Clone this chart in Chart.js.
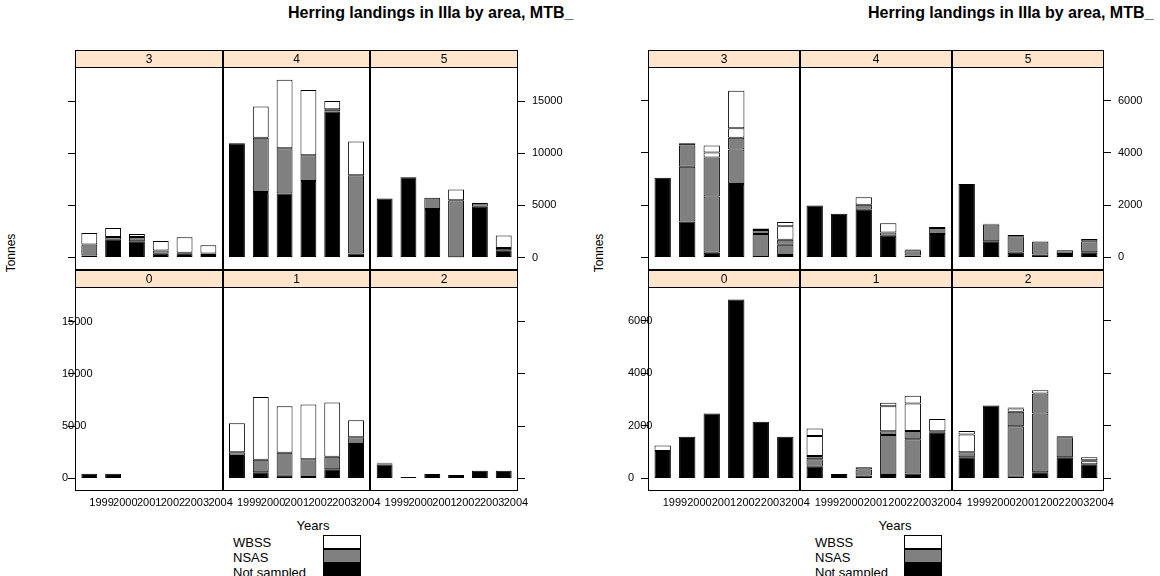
<!DOCTYPE html>
<html>
<head>
<meta charset="utf-8">
<script src="https://cdn.jsdelivr.net/npm/chart.js@4.4.1/dist/chart.umd.min.js"></script>
<style>
  body { margin: 0; width: 1160px; height: 576px; overflow: hidden; position: relative; background: #fff;
         font-family: "Liberation Sans", Arial, sans-serif; color: #000; }
  canvas { position: absolute; }
  .txt { position: absolute; white-space: nowrap; }
  .title { font-size: 16px; font-weight: bold; line-height: 18px; top: 4px; overflow: hidden; }
  .ylab { font-size: 12px; transform: translate(-50%, -50%) rotate(-90deg); }
  .xlab { font-size: 13px; transform: translateX(-50%); top: 518px; line-height: 15px; }
  .key { font-size: 13px; line-height: 15px; }
  .box { position: absolute; width: 38px; height: 14px; border: 1px solid #000; box-sizing: border-box; }
</style>
</head>
<body>

<div class="txt title" style="left:288px; width:292px">Herring landings in IIIa by area, MTB_</div>
<div class="txt title" style="left:868px; width:292px">Herring landings in IIIa by area, MTB_</div>
<div class="txt ylab" style="left:11px; top:253px">Tonnes</div>
<div class="txt ylab" style="left:599px; top:253px">Tonnes</div>
<div class="txt xlab" style="left:313px">Years</div>
<div class="txt xlab" style="left:895px">Years</div>
<div id="keyL"></div>
<div id="keyR"></div>

<canvas id="lt" width="506" height="220" style="left:62px; top:50px"></canvas>
<canvas id="lb" width="506" height="245" style="left:62px; top:270px"></canvas>
<canvas id="rt" width="526" height="220" style="left:628px; top:50px"></canvas>
<canvas id="rb" width="526" height="245" style="left:628px; top:270px"></canvas>

<script>
const years = ['1999', '2000', '2001', '2002', '2003', '2004'];
const topAreas = ['3', '4', '5'];
const bottomAreas = ['0', '1', '2'];
const stocks = ['WBSS', 'NSAS', 'Not sampled'];   // key order, top to bottom
const stockCodes = ['W', 'S', 'N'];

// bars per year, segments from the bottom up: [stock, tonnes]
// N = Not sampled, S = NSAS, W = WBSS
const leftArea0 = [[['N', 450]], [['N', 450]], [], [], [], []];
const leftArea1 = [
  [['N', 2150], ['S', 350], ['W', 2780]],
  [['N', 600], ['S', 1190], ['W', 6000]],
  [['N', 250], ['S', 2210], ['W', 4440]],
  [['N', 150], ['S', 1690], ['W', 5220]],
  [['N', 870], ['S', 1210], ['W', 5170]],
  [['N', 3300], ['S', 640], ['W', 1630]]
];
const leftArea2 = [
  [['N', 1330], ['S', 100], ['W', 60]],
  [['N', 150]], [['N', 420]], [['N', 320]], [['N', 730]], [['N', 730]]
];
const leftArea3 = [
  [['N', 200], ['S', 1040], ['W', 1110]],
  [['N', 1710], ['S', 260], ['W', 860]],
  [['N', 1555], ['S', 415], ['W', 280]],
  [['N', 350], ['S', 315], ['W', 920]],
  [['N', 400], ['S', 50], ['W', 1490]],
  [['N', 250], ['S', 130], ['W', 790]]
];
const leftArea4 = [
  [['N', 10980]],
  [['N', 6300], ['S', 5200], ['W', 3000]],
  [['N', 6150], ['S', 4350], ['W', 6570]],
  [['N', 7350], ['S', 2480], ['W', 6250]],
  [['N', 14020], ['S', 230], ['W', 790]],
  [['N', 380], ['S', 7520], ['W', 3240]]
];
const leftArea5 = [
  [['N', 5680]],
  [['N', 7710]],
  [['N', 4665], ['S', 1080]],
  [['N', 30], ['S', 5460], ['W', 1050]],
  [['N', 4885], ['S', 350]],
  [['N', 700], ['S', 220], ['W', 1200]]
];

const rightArea0 = [
  [['N', 1040], ['W', 215]],
  [['N', 1585]], [['N', 2475]], [['N', 6815]], [['N', 2155]], [['N', 1585]]
];
const rightArea1 = [
  [['N', 445], ['S', 280], ['S', 130], ['W', 760], ['W', 290]],
  [['N', 165]],
  [['N', 110], ['S', 230], ['W', 80]],
  [['N', 125], ['S', 1525], ['S', 150], ['W', 950], ['W', 130]],
  [['N', 190], ['S', 1305], ['S', 315], ['W', 1045], ['W', 290]],
  [['N', 1735], ['S', 65], ['W', 460]]
];
const rightArea2 = [
  [['N', 810], ['S', 190], ['W', 675], ['W', 135]],
  [['N', 2780]],
  [['N', 60], ['S', 1930], ['S', 545], ['W', 130], ['N', 35]],
  [['N', 230], ['S', 2245], ['S', 760], ['W', 125]],
  [['N', 810], ['S', 760], ['N', 40]],
  [['N', 540], ['W', 110], ['N', 40], ['W', 120]]
];
const rightArea3 = [
  [['N', 3050]],
  [['N', 1380], ['S', 2090], ['S', 820], ['N', 80]],
  [['N', 180], ['S', 2150], ['S', 1500], ['W', 190], ['W', 265]],
  [['N', 2810], ['S', 1320], ['S', 455], ['W', 365], ['W', 1430]],
  [['N', 20], ['S', 880], ['S', 150], ['W', 60]],
  [['N', 90], ['S', 400], ['S', 190], ['W', 510], ['W', 165]]
];
const rightArea4 = [
  [['N', 1990]],
  [['N', 1670]],
  [['N', 1825], ['S', 190], ['W', 290]],
  [['N', 835], ['S', 125], ['W', 345]],
  [['N', 75], ['S', 200], ['W', 30]],
  [['N', 900], ['S', 230], ['N', 35]]
];
const rightArea5 = [
  [['N', 2810]],
  [['N', 620], ['S', 640], ['N', 30]],
  [['N', 180], ['S', 630], ['W', 50]],
  [['N', 115], ['S', 495]],
  [['N', 130], ['S', 150]],
  [['N', 200], ['S', 420], ['W', 90]]
];

const leftTicks = [0, 5000, 10000, 15000];
const rightTicks = [0, 2000, 4000, 6000];

const fills = { N: '#000000', S: '#808080', W: '#ffffff' };
const SPAN = 6.2;   // each panel runs 0.4 .. 6.6 in bar units
const STRIP = 17;

const xTicks = [];
for (let p = 0; p < 3; p++) years.forEach((y, i) => xTicks.push(p * SPAN + i + 1));

function buildDatasets(panels) {
  const layers = [];
  panels.forEach((bars, p) => bars.forEach((segs, i) => segs.forEach((seg, k) => {
    (layers[k] = layers[k] || []).push({ x: p * SPAN + i + 1, y: seg[1], s: seg[0] });
  })));
  return layers.map(data => ({
    data,
    backgroundColor: c => (c.raw ? fills[c.raw.s] : '#000'),
    borderColor: '#000',
    borderWidth: 1,
    borderSkipped: false,
    categoryPercentage: 1,
    barPercentage: 0.667
  }));
}

const panelPlugin = {
  id: 'panels',
  afterDatasetsDraw(chart, args, opts) {
    const { ctx, chartArea: a } = chart;
    const x = chart.scales.x;
    ctx.save();
    ctx.lineWidth = 1;
    ctx.strokeStyle = '#000';
    const top = Math.round(a.top) + 0.5, bot = Math.round(a.bottom) - 0.5;
    opts.labels.forEach((lab, p) => {
      const x0 = Math.round(x.getPixelForValue(0.4 + p * SPAN)) + 0.5;
      const x1 = Math.round(x.getPixelForValue(0.4 + (p + 1) * SPAN)) - 0.5;
      ctx.strokeRect(x0, top, x1 - x0, bot - top);
      ctx.fillStyle = '#ffe5cc';
      ctx.fillRect(x0, top - STRIP, x1 - x0, STRIP);
      ctx.strokeRect(x0, top - STRIP, x1 - x0, STRIP);
      ctx.fillStyle = '#000';
      ctx.font = '12px "Liberation Sans", Arial, sans-serif';
      ctx.textAlign = 'center';
      ctx.textBaseline = 'middle';
      ctx.fillText(lab, (x0 + x1) / 2, top - STRIP / 2 + 1);
    });
    ctx.restore();
  }
};

function makeRow(id, panels, labels, cfg) {
  const tickFont = { family: '"Liberation Sans", Arial, sans-serif', size: 11 };
  const yAxis = (pos, width, show) => ({
    position: pos,
    min: cfg.min, max: cfg.max,
    stacked: pos === 'left',
    afterBuildTicks: s => { s.ticks = cfg.ticks.map(v => ({ value: v })); },
    afterFit: s => { s.width = width; s.paddingTop = 0; s.paddingBottom = 0; },
    ticks: {
      display: true,
      callback: v => (show ? String(v) : ''),
      // left labels start at the outer edge and run over the frame, as in the original
      mirror: pos === 'left',
      crossAlign: 'near',
      padding: pos === 'left' ? -width : 7,
      color: '#000', font: tickFont
    },
    grid: { drawOnChartArea: false, drawTicks: true, tickLength: 7, tickColor: '#000' },
    border: { display: false }
  });

  new Chart(document.getElementById(id), {
    type: 'bar',
    data: { datasets: buildDatasets(panels) },
    options: {
      responsive: false,
      animation: false,
      layout: { padding: { top: STRIP, left: 0, right: 0, bottom: 0 } },
      plugins: { legend: { display: false }, tooltip: { enabled: false }, panels: { labels } },
      scales: {
        x: {
          type: 'linear', min: 0.4, max: 3 * SPAN + 0.4, stacked: true, offset: false,
          afterBuildTicks: s => { s.ticks = xTicks.map(v => ({ value: v })); },
          afterFit: s => { s.height = cfg.bottom ? 24 : 0; s.paddingLeft = 0; s.paddingRight = 0; },
          ticks: {
            display: cfg.bottom, callback: (v, i) => years[i % 6],
            align: 'start', autoSkip: false, minRotation: 0, maxRotation: 0,
            padding: 5, color: '#000', font: tickFont
          },
          grid: { display: false, drawTicks: false, offset: false },
          border: { display: false }
        },
        y: yAxis('left', cfg.leftW, cfg.bottom),
        y2: yAxis('right', 50, !cfg.bottom)
      }
    },
    plugins: [panelPlugin]
  });
}

makeRow('lt', [leftArea3, leftArea4, leftArea5], topAreas,
  { bottom: false, min: -1200, max: 18300, ticks: leftTicks, leftW: 13 });
makeRow('lb', [leftArea0, leftArea1, leftArea2], bottomAreas,
  { bottom: true, min: -1200, max: 18300, ticks: leftTicks, leftW: 13 });
makeRow('rt', [rightArea3, rightArea4, rightArea5], topAreas,
  { bottom: false, min: -480, max: 7290, ticks: rightTicks, leftW: 20 });
makeRow('rb', [rightArea0, rightArea1, rightArea2], bottomAreas,
  { bottom: true, min: -480, max: 7290, ticks: rightTicks, leftW: 20 });

// key below each plot: labels then stacked boxes
function makeKey(id, textLeft, boxLeft) {
  const el = document.getElementById(id);
  stocks.forEach((name, i) => {
    const t = document.createElement('div');
    t.className = 'txt key';
    t.style.left = textLeft + 'px';
    t.style.top = (535 + i * 15) + 'px';
    t.textContent = name;
    el.appendChild(t);
    const b = document.createElement('div');
    b.className = 'box';
    b.style.left = boxLeft + 'px';
    b.style.top = (535 + i * 14) + 'px';
    b.style.background = fills[stockCodes[i]];
    el.appendChild(b);
  });
}
makeKey('keyL', 233, 323);
makeKey('keyR', 815, 904);
</script>
</body>
</html>
